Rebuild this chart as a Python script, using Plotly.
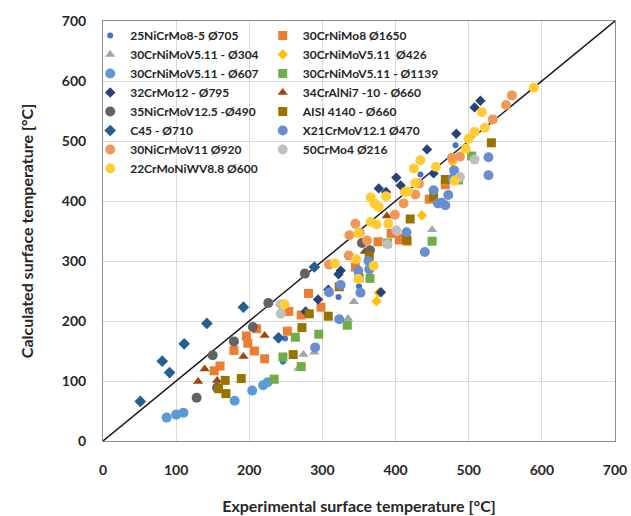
import plotly.graph_objects as go

# ---------------- data (experimental x, calculated y) ----------------
s25NiCrMo8_x = [246, 249, 322, 323, 350, 434, 482]
s25NiCrMo8_y = [132, 171, 240, 256, 258, 444, 493]

s30CrNiMo8_x = [152, 160, 179, 196, 198, 207, 210, 221, 254, 252, 271, 281, 298, 345, 376, 394, 405, 416, 411, 446, 468]
s30CrNiMo8_y = [117, 125, 151, 175, 163, 150, 187, 137, 216, 183, 210, 246, 223, 290, 332, 346, 335, 333, 338, 403, 427]

s304_x = [267, 274, 289, 335, 343, 450]
s304_y = [121, 144, 148, 204, 232, 352]

s426_x = [374, 377, 436, 478]
s426_y = [233, 247, 376, 465]

s607_x = [87, 100, 110, 180, 204, 219, 225]
s607_y = [39, 44, 47, 67, 84, 93, 98]

s1139_x = [234, 246, 263, 271, 295, 334, 365, 389, 450, 486, 504]
s1139_y = [103, 140, 173, 124, 178, 193, 271, 330, 333, 435, 475]

s32CrMo12_x = [277, 294, 308, 322, 325, 380, 377, 387, 401, 407, 443, 452, 483, 508, 516]
s32CrMo12_y = [216, 236, 252, 278, 284, 248, 421, 415, 439, 426, 486, 446, 512, 556, 567]

s34CrAlNi7_x = [130, 139, 156, 192, 221, 358, 388]
s34CrAlNi7_y = [99, 120, 101, 141, 176, 316, 375]

s35NiCrMoV_x = [128, 156, 150, 179, 205, 226, 276, 354, 365]
s35NiCrMoV_y = [72, 89, 143, 166, 190, 230, 279, 330, 318]

sAISI_x = [158, 167, 168, 189, 260, 272, 282, 308, 323, 350, 364, 415, 420, 452, 468, 531]
sAISI_y = [87, 101, 79, 104, 144, 189, 212, 208, 257, 272, 308, 335, 370, 407, 436, 497]

sC45_x = [51, 81, 91, 111, 142, 192, 240, 289]
sC45_y = [66, 133, 114, 162, 196, 223, 172, 290]

sX21_x = [290, 323, 309, 325, 349, 352, 363, 364, 415, 440, 452, 458, 463, 468, 472, 478, 480, 527, 527]
sX21_y = [156, 203, 248, 260, 284, 247, 300, 286, 348, 315, 418, 396, 397, 393, 410, 437, 451, 443, 473]

s30NiCrMoV11_x = [309, 336, 337, 345, 351, 361, 399, 411, 427, 432, 477, 488, 533, 551, 559]
s30NiCrMoV11_y = [294, 309, 343, 362, 347, 334, 377, 396, 411, 429, 472, 474, 536, 560, 576]

s50CrMo4_x = [243, 243, 389, 401, 488, 508]
s50CrMo4_y = [212, 228, 328, 351, 440, 469]

s22CrMoNiWV_x = [248, 317, 346, 349, 349, 366, 374, 390, 370, 366, 371, 387, 377, 413, 417, 427, 425, 434, 455, 481, 496, 500, 508, 522, 518, 589]
s22CrMoNiWV_y = [228, 296, 303, 270, 346, 365, 361, 362, 292, 406, 396, 408, 390, 415, 416, 430, 454, 468, 457, 434, 487, 504, 515, 522, 548, 589]

diag = [0, 700]
ticks = [0, 100, 200, 300, 400, 500, 600, 700]

# name, x, y, symbol, color, size, legend
series = [
    ("25NiCrMo8-5 Ø705", s25NiCrMo8_x, s25NiCrMo8_y, "circle", "#4472C4", 6, "legend"),
    ("30CrNiMo8 Ø1650", s30CrNiMo8_x, s30CrNiMo8_y, "square", "#ED7D31", 9, "legend2"),
    ("30CrNiMoV5.11 - Ø304", s304_x, s304_y, "triangle-up", "#A5A5A5", 9, "legend"),
    ("30CrNiMoV5.11 \u00a0Ø426", s426_x, s426_y, "diamond", "#FFC000", 8, "legend2"),
    ("30CrNiMoV5.11 - Ø607", s607_x, s607_y, "circle", "#5B9BD5", 10, "legend"),
    ("30CrNiMoV5.11 - Ø1139", s1139_x, s1139_y, "square", "#70AD47", 9, "legend2"),
    ("32CrMo12 - Ø795", s32CrMo12_x, s32CrMo12_y, "diamond", "#264478", 8, "legend"),
    ("34CrAlNi7 -10 - Ø660", s34CrAlNi7_x, s34CrAlNi7_y, "triangle-up", "#9E480E", 9, "legend2"),
    ("35NiCrMoV12.5 -Ø490", s35NiCrMoV_x, s35NiCrMoV_y, "circle", "#636363", 10, "legend"),
    ("AISI 4140 - Ø660", sAISI_x, sAISI_y, "square", "#997300", 9, "legend2"),
    ("C45 - Ø710", sC45_x, sC45_y, "diamond", "#255E91", 9, "legend"),
    ("X21CrMoV12.1 Ø470", sX21_x, sX21_y, "circle", "#698ED0", 10, "legend2"),
    ("30NiCrMoV11 Ø920", s30NiCrMoV11_x, s30NiCrMoV11_y, "circle", "#F1975A", 10, "legend"),
    ("50CrMo4 Ø216", s50CrMo4_x, s50CrMo4_y, "circle", "#BFBFBF", 10, "legend2"),
    ("22CrMoNiWV8.8 Ø600", s22CrMoNiWV_x, s22CrMoNiWV_y, "circle", "#FFCD33", 10, "legend"),
]

FONT = "Lato, 'Open Sans', sans-serif"

fig = go.Figure()
fig.add_trace(go.Scatter(x=diag, y=diag, mode="lines", line=dict(color="#1a1a1a", width=1.5),
                         showlegend=False, hoverinfo="skip"))
for name, xs, ys, sym, col, sz, lg in series:
    fig.add_trace(go.Scatter(x=xs, y=ys, mode="markers", name=name, legend=lg,
                             marker=dict(symbol=sym, color=col, size=sz, line=dict(width=0))))

axis_common = dict(range=[0, 700], tickvals=ticks, showgrid=True, gridcolor="#D9D9D9", gridwidth=1,
                   zeroline=False, showline=True, linecolor="#8C8C8C", linewidth=1, mirror=True,
                   ticks="", tickfont=dict(family=FONT, size=14, color="#262626", weight="bold"),
                   automargin=False)

fig.update_layout(
    width=631, height=516,
    margin=dict(l=103, r=16, t=21, b=75, autoexpand=False),
    paper_bgcolor="white", plot_bgcolor="white",
    font=dict(family=FONT, color="#262626"),
    xaxis=dict(**axis_common, ticklabelstandoff=16,
               title=dict(text="Experimental surface temperature [°C]", standoff=24,
                          font=dict(family=FONT, size=16, color="#262626", weight="bold"))),
    yaxis=dict(**axis_common, ticklabelstandoff=13,
               title=dict(text="Calculated surface temperature [°C]", standoff=24,
                          font=dict(family=FONT, size=16, color="#262626", weight="bold"))),
    legend=dict(x=-0.025, y=1.0, xanchor="left", yanchor="top", bgcolor="rgba(0,0,0,0)",
                font=dict(family=FONT, size=12, color="#262626", weight="bold"),
                itemwidth=30, tracegroupgap=0),
    legend2=dict(x=0.312, y=1.0, xanchor="left", yanchor="top", bgcolor="rgba(0,0,0,0)",
                 font=dict(family=FONT, size=12, color="#262626", weight="bold"),
                 itemwidth=30, tracegroupgap=0),
)

fig.write_html("out.html", config={"displayModeBar": False},
               post_script="document.body.style.margin='0px';")
